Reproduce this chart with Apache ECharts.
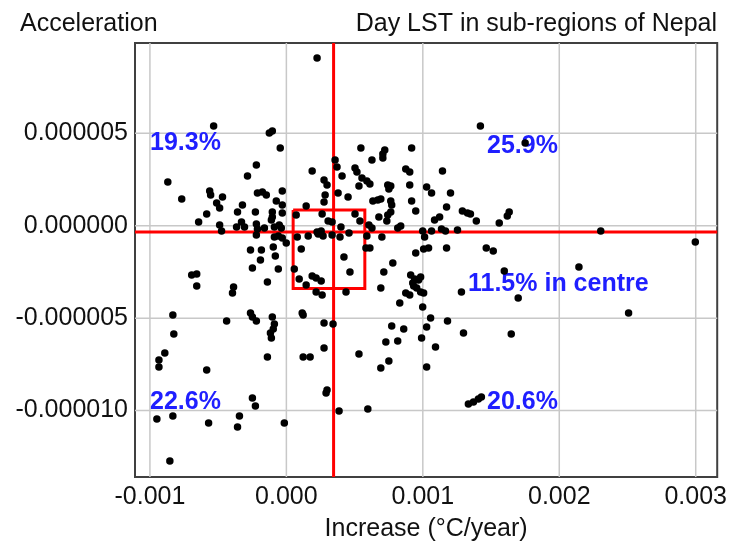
<!DOCTYPE html>
<html>
<head>
<meta charset="utf-8">
<script src="https://cdn.jsdelivr.net/npm/echarts@6/dist/echarts.min.js"></script>
<style>
  html, body { margin: 0; padding: 0; background: #ffffff; }
  #chart { width: 730px; height: 547px; }
</style>
</head>
<body>
<div id="chart"></div>
<script>
// Sub-region trend of daytime LST: linear increase (°C/year) vs acceleration
const increase = [
  0.000225,
  -0.000533, -0.000125, -0.000103, -0.000045, -0.000220, -0.000285, -0.000869, -0.000767,
  -0.000562, -0.000555, -0.000468, -0.000511, -0.000489, -0.000212, -0.000176, -0.000147,
  -0.000030, -0.000074, -0.000030, -0.000322, -0.000358, -0.000227, -0.000103, -0.000103,
  -0.000030, -0.000584, 0.000189, 0.000276, 0.000298, 0.000284, 0.000276, 0.000145,
  -0.000643, -0.000489, -0.000475, -0.000365, -0.000329, -0.000307, -0.000220, -0.000212,
  -0.000110, -0.000052, -0.000037, -0.000088, -0.000161,
  0.001422, 0.001750, 0.000546, 0.000721, 0.000707, 0.000707, 0.000918, 0.000627,
  0.000357, 0.000371, 0.000503, 0.000517, 0.000408, 0.000875, 0.000904, 0.001144,
  0.000554, 0.000590, 0.000612, 0.000532, 0.000743, 0.000765, 0.000751, 0.000904,
  0.001028, 0.001064, 0.001203, 0.000379, 0.000452, 0.000634, 0.000670, 0.000692,
  0.000765, 0.000772, 0.000918, 0.001174, 0.000948, 0.000765, 0.000743, 0.000678,
  0.000736, 0.001086, 0.001123, 0.001290, 0.001327, 0.001349, 0.001633, 0.001619,
  0.001392, 0.001560, 0.000838, 0.000816, 0.000605, 0.000627, 0.001137, 0.001166,
  0.001254, 0.001064, 0.000999, 0.002304,
  0.000072, 0.000262, 0.000306, 0.000335, 0.000503, 0.000539, 0.000400, 0.000459,
  0.000080, 0.000160, 0.000225, 0.000255, 0.000269, 0.000335, 0.000393, 0.000109,
  0.000422, 0.000466, 0.000058, 0.000094, 0.000145, 0.000189, 0.000218, 0.000255,
  0.000233,
  -0.000220, -0.000088, -0.000059, -0.000030, -0.000001, -0.000096, -0.000263, -0.000183,
  -0.000190, -0.000081, -0.000249, -0.000059, -0.000139, -0.000694, -0.000657, -0.000657,
  -0.000387, -0.000395, -0.000832, -0.000438, -0.000263, -0.000249, -0.000220, -0.000103,
  -0.000088, -0.000096, -0.000117, -0.000110, 0.000116, 0.000123, 0.000276, -0.000825,
  -0.000891, -0.000934, -0.000934, -0.000584, -0.000139, 0.000123, 0.000174, 0.000276,
  0.000298, 0.000291, -0.000249, -0.000227, -0.000949, -0.000832, -0.000570, -0.000344,
  -0.000358, -0.000015, -0.000854, 0.000262, 0.000218, 0.000342,
  0.001013, 0.000583, 0.000612, 0.000948, 0.001006, 0.001042, 0.001174, 0.001465,
  0.001516, 0.000780, 0.000714, 0.000692, 0.000831, 0.000999, 0.001057, 0.001181,
  0.000911, 0.000940, 0.000969, 0.000984, 0.000926, 0.000933, 0.000955, 0.000984,
  0.001006, 0.000875, 0.000904, 0.001283, 0.001597, 0.001699, 0.002144, 0.002508,
  0.002997, 0.000860, 0.001028, 0.000991, 0.001093, 0.001298, 0.001648, 0.001028,
  0.001334, 0.001371, 0.001407, 0.001429, 0.000772, 0.000729, 0.000816, 0.000751,
  0.000692, 0.000532, 0.000386, 0.000597, 0.000437, 0.000590, 0.000700
];
const acceleration = [
  9.07e-6,
  5.39e-6, 5.01e-6, 5.12e-6, 4.20e-6, 3.28e-6, 2.69e-6, 2.36e-6, 1.44e-6,
  1.88e-6, 1.66e-6, 1.55e-6, 1.23e-6, 0.96e-6, 1.77e-6, 1.82e-6, 1.66e-6,
  1.88e-6, 1.34e-6, 1.12e-6, 1.12e-6, 0.74e-6, 0.74e-6, 0.74e-6, 0.47e-6,
  0.69e-6, 0.63e-6, 2.96e-6, 2.47e-6, 2.20e-6, 1.66e-6, 1.28e-6, 1.07e-6,
  0.20e-6, 0.04e-6, -0.29e-6, -0.07e-6, 0.20e-6, -0.07e-6, 0.09e-6, -0.18e-6,
  0.31e-6, 0.04e-6, -0.12e-6, -0.07e-6, -0.12e-6,
  5.39e-6, 4.47e-6, 4.20e-6, 4.09e-6, 3.88e-6, 3.66e-6, 4.20e-6, 3.55e-6,
  3.55e-6, 3.18e-6, 3.12e-6, 2.90e-6, 2.69e-6, 3.07e-6, 2.90e-6, 2.96e-6,
  2.58e-6, 2.42e-6, 2.26e-6, 2.15e-6, 2.20e-6, 2.15e-6, 1.99e-6, 2.20e-6,
  2.09e-6, 1.77e-6, 1.77e-6, 1.77e-6, 1.55e-6, 1.34e-6, 1.39e-6, 1.44e-6,
  1.34e-6, 1.12e-6, 1.34e-6, 1.01e-6, 0.80e-6, 0.74e-6, 0.58e-6, 0.47e-6,
  0.25e-6, 0.31e-6, 0.47e-6, 0.80e-6, 0.69e-6, 0.63e-6, 0.74e-6, 0.53e-6,
  0.25e-6, 0.15e-6, -0.02e-6, -0.12e-6, 0.04e-6, -0.12e-6, -0.18e-6, -0.29e-6,
  -0.23e-6, -0.29e-6, -0.29e-6, -0.29e-6,
  0.58e-6, 0.63e-6, 0.25e-6, 0.20e-6, 0.63e-6, 0.25e-6, -0.07e-6, -0.40e-6,
  -0.61e-6, -0.56e-6, -0.34e-6, -0.29e-6, -0.56e-6, -0.50e-6, -0.61e-6, -1.26e-6,
  -1.69e-6, -2.50e-6, -2.34e-6, -2.88e-6, -3.21e-6, -2.72e-6, -2.83e-6, -2.99e-6,
  -0.45e-6,
  -0.50e-6, -0.61e-6, -0.56e-6, -0.67e-6, -0.94e-6, -1.15e-6, -1.31e-6, -1.31e-6,
  -1.86e-6, -1.64e-6, -2.29e-6, -2.34e-6, -3.05e-6, -2.67e-6, -2.61e-6, -3.26e-6,
  -3.32e-6, -3.64e-6, -4.83e-6, -5.15e-6, -4.72e-6, -4.94e-6, -5.15e-6, -4.94e-6,
  -5.32e-6, -5.59e-6, -5.80e-6, -6.07e-6, -4.72e-6, -4.83e-6, -5.26e-6, -5.86e-6,
  -6.89e-6, -7.26e-6, -7.64e-6, -7.80e-6, -7.10e-6, -7.10e-6, -7.10e-6, -6.61e-6,
  -8.89e-6, -9.05e-6, -9.32e-6, -9.75e-6, -10.45e-6, -10.29e-6, -10.67e-6, -10.29e-6,
  -10.89e-6, -10.67e-6, -12.73e-6, -3.75e-6, -3.59e-6, -5.32e-6,
  -0.61e-6, -1.21e-6, -1.21e-6, -1.48e-6, -1.26e-6, -1.21e-6, -1.21e-6, -1.21e-6,
  -1.37e-6, -2.02e-6, -2.50e-6, -3.37e-6, -4.18e-6, -4.40e-6, -4.99e-6, -5.15e-6,
  -2.67e-6, -2.88e-6, -2.94e-6, -2.77e-6, -3.10e-6, -3.26e-6, -3.37e-6, -3.59e-6,
  -3.64e-6, -3.64e-6, -3.75e-6, -3.59e-6, -2.45e-6, -3.91e-6, -2.23e-6, -4.72e-6,
  -0.88e-6, -5.59e-6, -5.48e-6, -6.07e-6, -6.56e-6, -5.80e-6, -5.86e-6, -7.64e-6,
  -9.64e-6, -9.54e-6, -9.37e-6, -9.26e-6, -5.42e-6, -6.29e-6, -6.24e-6, -7.32e-6,
  -7.70e-6, -6.94e-6, -10.02e-6, -9.91e-6, -3.59e-6, -0.56e-6, -0.61e-6
];

// axis ticks and extents
const xTicks = [-0.001, 0, 0.001, 0.002, 0.003];
const yTicks = [-0.00001, -0.000005, 0, 0.000005];
const xExtent = [-0.0011094, 0.0031575];
const yExtent = [-0.000013591, 0.000009881];

// median split lines and the central box
const splitIncrease = 0.000346;
const splitAcceleration = -0.00000034;
const boxIncrease = [0.0000496, 0.000575];
const boxAcceleration = [-0.0000034, 0.00000085];

// share of sub-regions per quadrant
const quadrantShares = ['19.3%', '25.9%', '11.5% in centre', '22.6%', '20.6%'];

const FONT = "'Liberation Sans', Arial, Helvetica, sans-serif";
const BLUE = '#1f1fff';
const INK = '#111111';
const SIZE = 25;

const chart = echarts.init(document.getElementById('chart'), null, { renderer: 'canvas' });

const points = increase.map((x, i) => [x, acceleration[i]]);

// straight guide line drawn as a plain line series
function guide(data, color, width, z) {
  return {
    type: 'line', data: data, silent: true, z: z,
    symbol: 'none', showSymbol: false, animation: false,
    lineStyle: { color: color, width: width, type: 'solid', cap: 'butt', join: 'miter' },
    emphasis: { disabled: true }
  };
}

const gridSeries = xTicks.map(v => guide([[v, yExtent[0]], [v, yExtent[1]]], '#c8c8c8', 1.5, 1))
  .concat(yTicks.map(v => guide([[xExtent[0], v], [xExtent[1], v]], '#c8c8c8', 1.5, 1)));

const crossSeries = [
  guide([[splitIncrease, yExtent[0]], [splitIncrease, yExtent[1]]], '#ff0000', 3, 2),
  guide([[xExtent[0], splitAcceleration], [xExtent[1], splitAcceleration]], '#ff0000', 3, 2),
  guide([
    [boxIncrease[0], boxAcceleration[1]], [boxIncrease[1], boxAcceleration[1]],
    [boxIncrease[1], boxAcceleration[0]], [boxIncrease[0], boxAcceleration[0]],
    [boxIncrease[0], boxAcceleration[1]]
  ], '#ff0000', 3, 2)
];

const shareStyle = (text) => ({
  text: text, fill: BLUE, font: 'bold ' + SIZE + 'px ' + FONT, verticalAlign: 'middle', align: 'left'
});

chart.setOption({
  animation: false,
  backgroundColor: '#ffffff',
  textStyle: { fontFamily: FONT },
  title: [
    { text: 'Acceleration', left: 15, top: 7,
      textStyle: { fontFamily: FONT, fontSize: SIZE, fontWeight: 'normal', color: INK } },
    { text: 'Day LST in sub-regions of Nepal', right: 8, top: 7,
      textStyle: { fontFamily: FONT, fontSize: SIZE, fontWeight: 'normal', color: INK } }
  ],
  grid: {
    left: 135, top: 43, width: 585, height: 434,
    show: true, borderColor: '#404040', borderWidth: 2, backgroundColor: 'transparent'
  },
  xAxis: {
    type: 'value', min: xExtent[0], max: xExtent[1],
    name: 'Increase (°C/year)', nameLocation: 'middle', nameGap: 40,
    nameTextStyle: { fontFamily: FONT, fontSize: SIZE, color: INK },
    axisLine: { show: false }, axisTick: { show: false }, splitLine: { show: false },
    axisLabel: {
      customValues: xTicks, margin: 8, fontFamily: FONT, fontSize: SIZE, color: INK,
      formatter: (v) => v.toFixed(3)
    }
  },
  yAxis: {
    type: 'value', min: yExtent[0], max: yExtent[1],
    axisLine: { show: false }, axisTick: { show: false }, splitLine: { show: false },
    axisLabel: {
      customValues: yTicks, margin: 7, fontFamily: FONT, fontSize: SIZE, color: INK,
      formatter: (v) => v.toFixed(6)
    }
  },
  graphic: [
    { type: 'text', x: 150, y: 143, z: 3, style: shareStyle(quadrantShares[0]) },
    { type: 'text', x: 487, y: 146, z: 3, style: shareStyle(quadrantShares[1]) },
    { type: 'text', x: 468, y: 284, z: 3, style: shareStyle(quadrantShares[2]) },
    { type: 'text', x: 150, y: 402, z: 3, style: shareStyle(quadrantShares[3]) },
    { type: 'text', x: 487, y: 402, z: 3, style: shareStyle(quadrantShares[4]) }
  ],
  series: gridSeries.concat(crossSeries).concat([
    {
      type: 'scatter', name: 'sub-regions', data: points, z: 4,
      symbol: 'circle', symbolSize: 7.5,
      itemStyle: { color: '#000000', opacity: 1 },
      emphasis: { disabled: true }
    }
  ])
});
</script>
</body>
</html>
